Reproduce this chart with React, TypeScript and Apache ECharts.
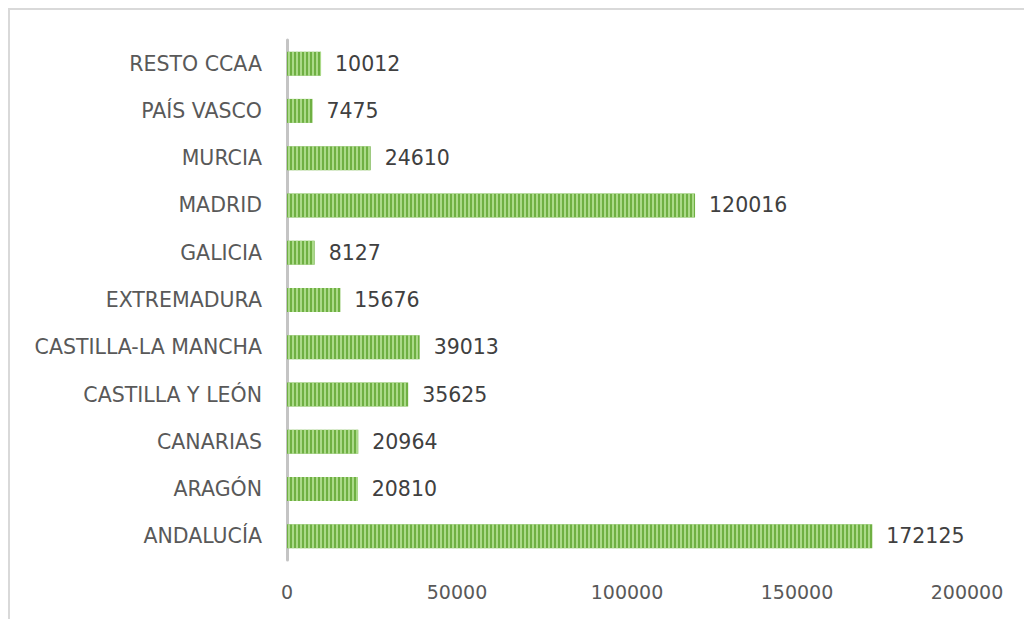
import React, { useEffect, useRef } from "react";
import * as echarts from "echarts";

const categories = [
  "ANDALUCÍA",
  "ARAGÓN",
  "CANARIAS",
  "CASTILLA Y LEÓN",
  "CASTILLA-LA MANCHA",
  "EXTREMADURA",
  "GALICIA",
  "MADRID",
  "MURCIA",
  "PAÍS VASCO",
  "RESTO CCAA",
];
const values = [172125, 20810, 20964, 35625, 39013, 15676, 8127, 120016, 24610, 7475, 10012];
const xTicks = [0, 50000, 100000, 150000, 200000];

export default function App() {
  const ref = useRef<HTMLDivElement>(null);
  useEffect(() => {
    if (!ref.current) return;
    const chart = echarts.init(ref.current, null, { renderer: "svg" });
    chart.setOption({
      animation: false,
      backgroundColor: "#ffffff",
      textStyle: { fontFamily: "DejaVu Sans" },
      graphic: [
        { type: "line", shape: { x1: 8, y1: 9, x2: 1024, y2: 9 }, style: { stroke: "#d9d9d9", lineWidth: 2 } },
        { type: "line", shape: { x1: 9, y1: 8, x2: 9, y2: 619 }, style: { stroke: "#d9d9d9", lineWidth: 2 } },
      ],
      grid: { left: 287, right: 57, top: 40, bottom: 59, containLabel: false },
      xAxis: {
        type: "value",
        min: xTicks[0],
        max: xTicks[xTicks.length - 1],
        interval: 50000,
        axisLine: { show: false },
        axisTick: { show: false },
        splitLine: { show: false },
        axisLabel: {
          color: "#595959",
          fontSize: 19,
          margin: 22,
          fontFamily: "DejaVu Sans",
          formatter: (v: number) => String(v),
        },
      },
      yAxis: {
        type: "category",
        data: categories,
        axisLine: { show: true, lineStyle: { color: "#c4c4c4", width: 3 } },
        axisTick: { show: false },
        axisLabel: { color: "#595959", fontSize: 20.5, margin: 25, fontFamily: "DejaVu Sans" },
      },
      series: [
        {
          type: "bar",
          data: values,
          barWidth: 24,
          itemStyle: {
            color: "#6fb043",
            decal: {
              symbol: "rect",
              symbolSize: 1,
              dashArrayX: [2, 2],
              dashArrayY: [10, 0],
              rotation: 0,
              color: "rgba(190,232,160,0.75)",
            },
          },
          label: {
            show: true,
            position: "right",
            distance: 14,
            color: "#404040",
            fontSize: 20.5,
            fontFamily: "DejaVu Sans",
          },
        },
      ],
    });
    return () => chart.dispose();
  }, []);
  return <div ref={ref} style={{ position: "fixed", left: 0, top: 0, width: 1024, height: 619 }} />;
}
